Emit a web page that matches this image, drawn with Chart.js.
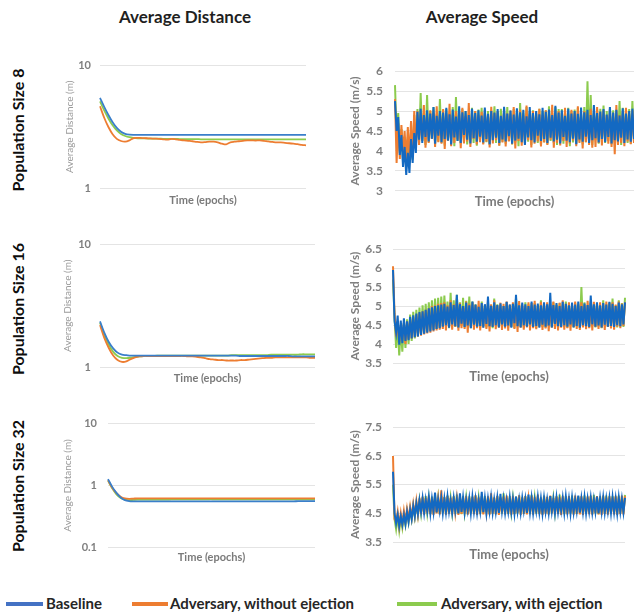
<!DOCTYPE html>
<html>
<head>
<meta charset="utf-8">
<script src="https://cdn.jsdelivr.net/npm/chart.js@4.4.1/dist/chart.umd.min.js"></script>
<style>
  body { margin: 0; width: 634px; height: 612px; background: #fff; position: relative; overflow: hidden;
         font-family: Lato, "Open Sans", sans-serif; }
  canvas { position: absolute; }
  .col-title { position: absolute; top: 6px; font-weight: 700; font-size: 17px; color: #1f1f1f;
               transform: translateX(-50%); white-space: nowrap; }
  .row-title { position: absolute; font-weight: 700; font-size: 16px; color: #0d0d0d; white-space: nowrap;
               transform: translate(-50%, -50%) rotate(-90deg); }
  .lg-line { position: absolute; height: 4px; top: 602px; }
  .lg-text { position: absolute; top: 594px; font-size: 15px; font-weight: 700; color: #262626; white-space: nowrap; }
</style>
</head>
<body>

<div class="col-title" style="left:185px">Average Distance</div>
<div class="col-title" style="left:482px">Average Speed</div>

<div class="row-title" style="left:17px;top:130px">Population Size 8</div>
<div class="row-title" style="left:17px;top:309px">Population Size 16</div>
<div class="row-title" style="left:17px;top:486px">Population Size 32</div>

<canvas id="dist8"></canvas>
<canvas id="speed8"></canvas>
<canvas id="dist16"></canvas>
<canvas id="speed16"></canvas>
<canvas id="dist32"></canvas>
<canvas id="speed32"></canvas>

<div class="lg-line" style="left:6px;width:37px;background:#4472C4"></div>
<div class="lg-text" style="left:46px">Baseline</div>
<div class="lg-line" style="left:132px;width:36px;background:#ED7D31"></div>
<div class="lg-text" style="left:170px">Adversary, without ejection</div>
<div class="lg-line" style="left:397px;width:40px;background:#8CCB4E"></div>
<div class="lg-text" style="left:441px">Adversary, with ejection</div>

<script>
// ---- series names / colours ----
const SERIES = ['Baseline', 'Adversary, without ejection', 'Adversary, with ejection'];
const DIST_COLORS = ['#3A7FCA', '#ED7D31', '#8CCB4E'];
const SPEED_COLORS = ['#1369C2', '#ED7D31', '#8CCB4E'];

// ---- tick labels ----
const TICKS_DIST8 = [1, 10];
const TICKS_DIST16 = [1, 10];
const TICKS_DIST32 = [0.1, 1, 10];
const TICKS_SPEED8 = [3, 3.5, 4, 4.5, 5, 5.5, 6];
const TICKS_SPEED16 = [3.5, 4, 4.5, 5, 5.5, 6, 6.5];
const TICKS_SPEED32 = [3.5, 4.5, 5.5, 6.5, 7.5];

// ---- average distance, population 8 ----
const DIST8_BASE = [5.45,4.6,3.95,3.45,3.1,2.88,2.77,2.73,2.72,2.72,
  2.72,2.72,2.72,2.72,2.72,2.72,2.72,2.72,2.72,2.72,
  2.72,2.72,2.72,2.72,2.72,2.72,2.72,2.72,2.72,2.72,
  2.72,2.72,2.72,2.72,2.72,2.72,2.72,2.72,2.72,2.72,
  2.72,2.72,2.72,2.72,2.72,2.72,2.72,2.72,2.72,2.72];
const DIST8_NOEJ = [4.65,3.75,3.15,2.75,2.52,2.42,2.39,2.45,2.56,2.57,
  2.56,2.55,2.54,2.53,2.52,2.5,2.48,2.52,2.5,2.47,
  2.45,2.43,2.41,2.38,2.36,2.37,2.39,2.39,2.36,2.3,
  2.27,2.36,2.39,2.41,2.43,2.45,2.45,2.44,2.45,2.43,
  2.4,2.38,2.36,2.36,2.34,2.32,2.3,2.28,2.25,2.23];
const DIST8_EJ = [5.1,4.3,3.7,3.25,2.95,2.76,2.66,2.6,2.57,2.55,
  2.54,2.54,2.53,2.53,2.53,2.52,2.52,2.52,2.52,2.51,
  2.51,2.51,2.51,2.51,2.5,2.5,2.5,2.5,2.5,2.5,
  2.5,2.5,2.5,2.5,2.5,2.5,2.5,2.5,2.5,2.5,
  2.5,2.5,2.5,2.5,2.5,2.5,2.5,2.5,2.5,2.5];

// ---- average distance, population 16 ----
const DIST16_BASE = [2.36,1.9,1.6,1.42,1.31,1.26,1.25,1.24,1.24,1.24,
  1.24,1.24,1.24,1.24,1.24,1.24,1.24,1.24,1.24,1.24,
  1.24,1.24,1.24,1.24,1.24,1.24,1.24,1.24,1.24,1.24,
  1.24,1.24,1.23,1.23,1.23,1.23,1.23,1.23,1.23,1.23,
  1.23,1.23,1.23,1.23,1.22,1.22,1.22,1.22,1.22,1.22];
const DIST16_NOEJ = [2.2,1.72,1.43,1.24,1.14,1.1,1.11,1.16,1.2,1.22,
  1.23,1.23,1.23,1.23,1.23,1.23,1.23,1.23,1.23,1.23,
  1.22,1.22,1.21,1.2,1.18,1.16,1.15,1.14,1.14,1.13,
  1.13,1.13,1.14,1.14,1.15,1.16,1.17,1.18,1.19,1.19,
  1.2,1.2,1.2,1.2,1.2,1.2,1.2,1.2,1.19,1.19];
const DIST16_EJ = [2.3,1.82,1.52,1.33,1.23,1.19,1.18,1.19,1.21,1.22,
  1.23,1.23,1.23,1.24,1.24,1.24,1.24,1.24,1.24,1.24,
  1.24,1.24,1.24,1.24,1.24,1.24,1.24,1.24,1.24,1.24,
  1.25,1.25,1.25,1.25,1.25,1.25,1.25,1.25,1.25,1.26,
  1.26,1.26,1.26,1.26,1.26,1.26,1.27,1.27,1.27,1.27];

// ---- average distance, population 32 ----
const DIST32_BASE = [1.27,0.95,0.76,0.64,0.58,0.56,0.555,0.555,0.555,0.555,
  0.555,0.555,0.555,0.555,0.555,0.555,0.555,0.555,0.555,0.555,
  0.555,0.555,0.555,0.555,0.555,0.555,0.555,0.555,0.555,0.555,
  0.555,0.555,0.555,0.555,0.555,0.555,0.555,0.555,0.555,0.555,
  0.555,0.555,0.555,0.555,0.555,0.558,0.558,0.56,0.56,0.56];
const DIST32_NOEJ = [1.22,0.92,0.75,0.66,0.62,0.61,0.615,0.62,0.62,0.62,
  0.62,0.62,0.62,0.62,0.62,0.62,0.62,0.62,0.62,0.62,
  0.62,0.62,0.62,0.62,0.62,0.62,0.62,0.62,0.62,0.62,
  0.62,0.62,0.62,0.62,0.62,0.62,0.62,0.62,0.62,0.62,
  0.62,0.62,0.62,0.62,0.62,0.62,0.62,0.62,0.62,0.62];
const DIST32_EJ = [1.2,0.9,0.72,0.63,0.59,0.58,0.585,0.59,0.59,0.59,
  0.59,0.59,0.59,0.59,0.59,0.595,0.595,0.595,0.595,0.595,
  0.595,0.595,0.595,0.595,0.6,0.6,0.6,0.6,0.6,0.6,
  0.6,0.6,0.6,0.6,0.6,0.6,0.6,0.6,0.6,0.6,
  0.6,0.6,0.6,0.6,0.6,0.6,0.6,0.6,0.6,0.6];

// ---- average speed, population 8 ----
const SPEED8_BASE = [5.25,4.5,4.85,3.9,4.4,3.6,4.1,3.4,3.95,3.45,4.3,3.7,4.45,3.95,
  4.98,4.28,5.06,4.2,4.9,4.35,5.02,4.24,4.94,4.31,5.1,4.18,4.88,4.38,5.0,4.22,4.96,4.3,5.08,4.26,
  4.92,4.16,5.04,4.34,4.86,4.25,5.12,4.2,4.97,4.4,5.0,4.28,4.9,4.19,5.06,4.32,4.95,4.23,5.02,4.36,
  4.89,4.21,5.09,4.3,4.93,4.17,5.0,4.27,4.96,4.33,5.05,4.2,4.88,4.29,5.11,4.24,4.94,4.37,5.01,4.18,
  4.91,4.26,5.07,4.31,4.97,4.22,5.03,4.15,4.87,4.34,5.1,4.27,4.95,4.21,5.0,4.38,4.92,4.25,5.08,4.3,
  4.98,4.2,5.04,4.33,4.9,4.24,5.13,4.28,4.96,4.19,5.02,4.35,4.88,4.26,5.06,4.22,4.94,4.31,5.0,4.17,
  4.93,4.29,5.09,4.23,4.97,4.36,5.03,4.2,4.9,4.27,5.15,4.32,4.95,4.21,
  4.99,4.3,5.05,4.22,4.91,4.35,5.1,4.19,4.96,4.27,5.03,4.24,4.89,4.33,5.07,4.2,4.94,4.29,5.0,4.23,5.06,4.3];
const SPEED8_NOEJ = [5.3,3.7,4.7,3.8,4.65,3.95,4.5,3.75,4.6,3.8,4.75,3.85,5.0,4.1,
  5.0,4.15,4.92,4.25,5.15,4.08,4.88,4.2,5.02,4.3,4.95,4.1,5.12,4.22,4.9,4.18,5.05,4.05,4.94,4.26,
  5.18,4.12,4.9,4.2,5.0,4.28,4.93,4.07,5.08,4.19,4.87,4.24,5.2,4.1,4.96,4.3,5.0,4.16,4.9,4.22,
  4.98,4.16,5.04,4.23,4.91,4.09,5.11,4.19,4.95,4.27,5.0,4.13,4.88,4.21,5.07,4.11,4.94,4.24,5.01,4.17,
  5.1,4.06,4.95,4.25,5.04,4.13,4.88,4.2,5.14,4.27,4.92,4.09,5.0,4.18,4.97,4.24,5.06,4.11,4.9,4.21,
  5.02,4.15,4.94,4.28,5.16,4.08,4.89,4.2,5.0,4.14,4.95,4.25,5.08,4.1,4.91,4.19,5.03,4.26,4.96,4.12,
  5.12,4.2,4.9,4.06,5.0,4.22,4.94,4.15,5.06,4.08,4.92,4.1,5.1,4.2,4.97,4.14,5.02,4.25,4.9,4.18,
  5.05,4.1,4.95,3.92,5.15,4.15,4.9,4.2,5.0,4.12,5.08,4.24,4.93,4.17,5.02,4.2];
const SPEED8_EJ = [5.65,4.4,4.95,3.95,4.55,3.75,4.25,3.72,4.35,3.7,4.5,3.78,4.9,4.15,
  5.05,4.2,5.45,4.25,4.95,4.15,5.4,4.22,5.0,4.3,5.1,4.18,4.92,4.24,5.3,4.2,5.02,4.14,5.05,4.26,
  4.96,4.2,5.1,4.12,5.35,4.25,4.98,4.19,5.05,4.22,5.0,4.16,4.93,4.28,5.08,4.2,5.0,4.13,5.04,4.24,
  5.08,4.18,4.95,4.22,5.0,4.15,5.02,4.27,5.12,4.2,4.97,4.14,5.06,4.23,5.0,4.18,5.1,4.25,4.94,4.16,
  5.05,4.21,5.03,4.12,5.2,4.26,4.96,4.19,5.1,4.23,5.0,4.15,5.02,4.28,4.93,4.2,5.06,4.14,5.0,4.22,
  5.02,4.17,5.12,4.25,4.95,4.2,5.1,4.15,5.05,4.23,5.05,4.18,4.98,4.26,5.08,4.12,5.0,4.21,5.04,4.19,
  5.08,4.24,4.94,4.16,5.1,4.22,5.75,4.2,5.4,4.15,4.97,4.27,5.05,4.18,5.06,4.22,5.14,4.2,5.0,4.25,
  5.1,4.17,5.02,4.22,5.02,4.2,5.25,4.15,5.08,4.26,5.05,4.2,5.05,4.18,5.25,4.23];

// ---- average speed, population 16 ----
const SPEED16_BASE = [5.95,4.6,4.3,4.75,3.98,4.62,4.02,4.68,4.08,4.6,4.1,4.72,4.15,4.76,4.18,4.8,
  4.2,4.84,4.24,4.86,4.27,4.9,4.3,4.94,4.33,4.97,4.36,5.0,4.4,5.02,4.42,5.04,
  4.46,5.06,4.5,4.99,4.43,5.1,4.52,5.03,4.47,5.3,4.44,5.05,4.54,5.0,4.45,5.09,4.49,5.02,4.42,5.12,
  4.51,5.04,4.46,4.98,4.48,5.08,4.43,5.05,4.53,5.25,4.47,5.01,4.45,5.1,4.5,5.03,4.44,5.07,4.52,5.0,
  4.46,5.11,4.49,5.04,4.43,5.06,4.55,5.3,4.47,5.02,4.44,5.09,4.5,5.05,4.46,5.0,4.52,5.12,4.45,5.04,
  4.48,5.07,4.43,5.02,4.51,5.1,4.46,5.05,4.49,5.35,4.44,5.03,4.53,5.08,4.47,5.0,4.45,5.11,4.5,5.06,
  4.46,5.02,4.52,5.09,4.44,5.04,4.48,5.12,4.43,5.0,4.5,5.07,4.47,5.03,4.45,5.28,4.52,5.05,4.46,5.1,
  4.49,5.02,4.44,5.08,4.51,5.04,4.46,5.11,4.48,5.06,4.45,5.0,4.5,5.09,4.47,5.05,4.52,5.1];
const SPEED16_NOEJ = [6.05,4.8,4.2,4.6,4.05,4.5,4.1,4.55,4.0,4.6,4.12,4.68,4.15,4.72,4.18,4.78,
  4.2,4.82,4.22,4.86,4.25,4.9,4.28,4.95,4.3,5.0,4.33,5.02,4.36,5.06,4.38,5.08,
  4.4,5.1,4.36,5.02,4.44,5.15,4.38,5.05,4.46,5.2,4.35,5.08,4.42,5.0,4.4,5.12,4.3,5.06,4.45,5.1,
  4.38,5.03,4.42,5.14,4.36,5.07,4.44,5.0,4.4,5.11,4.33,5.05,4.46,5.15,4.39,5.02,4.43,5.09,4.37,5.06,
  4.41,5.12,4.35,5.04,4.45,5.1,4.4,5.07,4.32,5.13,4.43,5.05,4.38,5.0,4.44,5.1,4.36,5.08,4.42,5.14,
  4.39,5.03,4.45,5.11,4.37,5.06,4.41,5.1,4.34,5.05,4.44,5.12,4.4,5.02,4.36,5.09,4.43,5.15,4.38,5.06,
  4.42,5.1,4.35,5.04,4.45,5.12,4.4,5.07,4.37,5.1,4.44,5.03,4.39,5.14,4.42,5.08,4.36,5.11,4.45,5.05,
  4.4,5.1,4.43,5.06,4.37,5.12,4.45,5.08,4.41,5.1,4.38,5.04,4.46,5.12,4.42,5.07,4.48,5.1];
const SPEED16_EJ = [5.7,4.7,3.9,4.5,3.7,4.4,3.8,4.55,3.9,4.65,4.0,4.78,4.08,4.85,4.15,4.9,
  4.2,4.96,4.24,5.02,4.28,5.06,4.32,5.1,4.35,5.15,4.38,5.2,4.4,5.22,4.42,5.25,
  4.44,5.28,4.47,5.12,4.42,5.35,4.48,5.15,4.45,5.3,4.43,5.1,4.49,5.22,4.44,5.14,4.46,5.25,4.42,5.12,
  4.47,5.05,4.45,5.0,4.43,5.12,4.48,5.03,4.44,5.08,4.46,5.0,4.42,5.2,4.49,5.05,4.45,5.02,4.43,5.0,
  4.47,5.1,4.44,5.02,4.46,5.06,4.42,5.22,4.48,5.04,4.45,5.0,4.43,5.1,4.47,5.05,4.44,5.02,4.46,5.08,
  4.42,5.0,4.48,5.15,4.45,5.03,4.43,5.06,4.47,5.0,4.44,5.1,4.46,5.04,4.42,5.08,4.49,5.02,4.45,5.12,
  4.43,5.05,4.47,5.0,4.44,5.08,4.46,5.02,4.42,5.5,4.48,5.1,4.45,5.02,4.43,5.12,4.47,5.04,4.44,5.08,
  4.46,5.02,4.42,5.15,4.48,5.05,4.45,5.1,4.43,5.2,4.47,5.02,4.44,5.15,4.46,5.08,4.45,5.22];

// ---- average speed, population 32 ----
const SPEED32_BASE = [5.95,4.5,4.15,4.45,4.05,4.4,4.1,4.45,4.12,4.55,4.2,4.62,4.3,4.75,4.4,4.85,4.48,4.95,
  4.55,5.02,4.52,4.97,4.58,5.06,4.5,5.0,4.56,5.22,4.53,4.98,4.59,5.04,4.51,5.01,4.55,5.08,4.57,4.96,
  4.52,5.03,4.58,5.0,4.5,5.2,4.55,5.05,4.53,4.98,4.6,5.02,4.51,5.07,4.56,5.0,4.52,4.97,4.58,5.25,
  4.54,5.03,4.5,5.0,4.57,5.06,4.53,4.98,4.55,5.04,4.51,5.18,4.58,5.01,4.52,4.96,4.56,5.05,4.54,5.0,
  4.5,5.08,4.57,4.98,4.53,5.03,4.59,5.0,4.51,5.15,4.55,5.04,4.52,4.97,4.58,5.06,4.54,5.01,4.5,5.03,
  4.56,4.98,4.53,5.1,4.57,5.0,4.51,5.05,4.55,4.97,4.59,5.03,4.52,5.08,4.56,5.0,4.5,5.04,4.54,4.98,
  4.58,5.12,4.52,5.02,4.55,5.06,4.51,5.0,4.57,5.04,4.53,4.98,4.56,5.08,4.5,5.02,4.55,5.05,4.53,5.0,
  4.57,5.03,4.52,5.06,4.55,5.01,4.5,5.05,4.56,5.0,4.54,5.04];
const SPEED32_NOEJ = [6.5,4.3,4.2,4.55,4.05,4.5,4.12,4.58,4.2,4.65,4.28,4.72,4.35,4.82,4.42,4.92,4.46,5.02,
  4.48,5.08,4.45,5.03,4.52,5.12,4.47,5.05,4.44,5.1,4.5,5.02,4.46,5.3,4.53,5.06,4.45,5.11,4.49,5.04,
  4.46,5.09,4.52,5.02,4.44,5.12,4.48,5.06,4.5,5.1,4.45,5.03,4.51,5.08,4.47,5.13,4.44,5.05,4.5,5.1,
  4.46,5.04,4.53,5.09,4.45,5.2,4.49,5.05,4.47,5.11,4.44,5.03,4.51,5.08,4.46,5.12,4.5,5.04,4.45,5.1,
  4.48,5.06,4.52,5.13,4.44,5.05,4.49,5.09,4.46,5.02,4.5,5.11,4.45,5.06,4.53,5.15,4.47,5.04,4.44,5.1,
  4.49,5.07,4.46,5.12,4.51,5.03,4.45,5.09,4.48,5.06,4.44,5.11,4.5,5.05,4.46,5.1,4.52,5.03,4.45,5.12,
  4.49,5.06,4.46,5.1,4.44,5.04,4.5,5.09,4.47,5.12,4.45,5.05,4.51,5.1,4.46,5.07,4.44,5.12,4.48,5.05,
  4.45,5.1,4.5,5.06,4.46,5.11,4.44,5.08,4.48,5.12,4.46,5.1];
const SPEED32_EJ = [5.5,4.3,3.95,4.4,3.9,4.35,4.0,4.45,4.1,4.55,4.2,4.65,4.3,4.75,4.38,4.85,4.45,4.95,
  4.5,5.05,4.48,5.1,4.52,5.02,4.47,5.08,4.5,5.14,4.53,5.04,4.48,5.1,4.51,5.06,4.47,5.12,4.5,5.03,
  4.52,5.08,4.48,5.15,4.5,5.05,4.47,5.1,4.53,5.04,4.49,5.09,4.5,5.06,4.48,5.12,4.52,5.03,4.47,5.08,
  4.5,5.1,4.53,5.05,4.48,5.12,4.5,5.04,4.47,5.09,4.52,5.06,4.49,5.2,4.5,5.05,4.48,5.1,4.53,5.03,
  4.47,5.08,4.5,5.12,4.52,5.05,4.48,5.1,4.5,5.06,4.47,5.14,4.53,5.04,4.49,5.09,4.5,5.05,4.48,5.12,
  4.52,5.06,4.47,5.1,4.5,5.03,4.53,5.08,4.48,5.15,4.5,5.05,4.47,5.1,4.52,5.06,4.49,5.12,4.5,5.04,
  4.48,5.09,4.53,5.06,4.47,5.12,4.5,5.05,4.52,5.1,4.48,5.14,4.5,5.06,4.47,5.1,4.53,5.08,4.5,5.12,
  4.48,5.05,4.52,5.1,4.5,5.07,4.47,5.12,4.5,5.08,4.52,5.14];

const FONT = 'Lato, "Open Sans", sans-serif';

// build one small panel so that its plot area lands on the given box
function panel(id, box, yAxis, series, colors, lineWidth, tension) {
  const PAD_TOP = 9;
  const canvas = document.getElementById(id);
  const left = box.left - box.yw;
  const top = box.top - PAD_TOP;
  const width = box.right + 1 - left;
  const height = box.bottom + box.xh - top;
  canvas.width = width;
  canvas.height = height;
  canvas.style.left = left + 'px';
  canvas.style.top = top + 'px';

  const n = Math.max(...series.map(s => s.length));
  const labels = Array.from({ length: n }, (_, i) => i);

  return new Chart(canvas, {
    type: 'line',
    data: {
      labels: labels,
      datasets: series.map((s, i) => ({
        label: SERIES[i],
        data: s,
        borderColor: colors[i],
        borderWidth: lineWidth,
        pointRadius: 0,
        tension: tension,
        fill: false
      }))
    },
    options: {
      responsive: false,
      animation: false,
      layout: { padding: { top: PAD_TOP, right: 1, left: 0, bottom: 0 } },
      plugins: { legend: { display: false }, tooltip: { enabled: false } },
      scales: {
        x: {
          grid: { display: false },
          border: { display: false },
          ticks: { display: false },
          title: {
            display: true,
            text: 'Time (epochs)',
            color: '#7a7a7a',
            font: { family: FONT, size: box.xFont, weight: 'bold' },
            padding: 0
          },
          afterFit(s) { s.height = box.xh; }
        },
        y: {
          type: yAxis.type,
          min: yAxis.ticks[0],
          max: yAxis.ticks[yAxis.ticks.length - 1],
          grid: { color: '#e4e4e4', drawTicks: false, lineWidth: 1 },
          border: { display: false },
          afterBuildTicks(s) { s.ticks = yAxis.ticks.map(v => ({ value: v })); },
          ticks: {
            padding: box.tickPad,
            color: '#7f7f7f',
            font: { family: FONT, size: box.tickFont, weight: 'bold' },
            callback: v => String(+Number(v).toFixed(2))
          },
          title: {
            display: true,
            text: yAxis.title,
            color: yAxis.titleColor,
            font: { family: FONT, size: box.yFont, weight: yAxis.titleWeight },
            padding: { top: box.yPad, bottom: 0 }
          },
          afterFit(s) { s.width = box.yw; }
        }
      }
    }
  });
}

const DIST_Y = t => ({ type: 'logarithmic', ticks: t, title: 'Average Distance (m)', titleColor: '#9a9a9a', titleWeight: 'normal' });
const SPEED_Y = t => ({ type: 'linear', ticks: t, title: 'Average Speed (m/s)', titleColor: '#7f7f7f', titleWeight: 'bold' });

panel('dist8',
  { left: 100, right: 306, top: 59, bottom: 188, yw: 40, yPad: 4, xh: 19, tickPad: 9, tickFont: 11, xFont: 11, yFont: 10 },
  DIST_Y(TICKS_DIST8), [DIST8_BASE, DIST8_NOEJ, DIST8_EJ], DIST_COLORS, 1.8, 0.3);
panel('dist16',
  { left: 100, right: 315, top: 238, bottom: 367, yw: 40, yPad: 2, xh: 18, tickPad: 9, tickFont: 11, xFont: 11, yFont: 10 },
  DIST_Y(TICKS_DIST16), [DIST16_BASE, DIST16_NOEJ, DIST16_EJ], DIST_COLORS, 1.8, 0.3);
panel('dist32',
  { left: 108, right: 315, top: 415, bottom: 548, yw: 48, yPad: 2, xh: 17, tickPad: 11, tickFont: 11, xFont: 11, yFont: 10 },
  DIST_Y(TICKS_DIST32), [DIST32_BASE, DIST32_NOEJ, DIST32_EJ], DIST_COLORS, 1.8, 0.3);

panel('speed8',
  { left: 395, right: 634, top: 61, bottom: 191, yw: 50, yPad: 3, xh: 19, tickPad: 12, tickFont: 12, xFont: 13, yFont: 12 },
  SPEED_Y(TICKS_SPEED8), [SPEED8_BASE, SPEED8_NOEJ, SPEED8_EJ], SPEED_COLORS, 2, 0);
panel('speed16',
  { left: 393, right: 625, top: 240, bottom: 363, yw: 48, yPad: 3, xh: 22, tickPad: 11, tickFont: 12, xFont: 13, yFont: 12 },
  SPEED_Y(TICKS_SPEED16), [SPEED16_BASE, SPEED16_NOEJ, SPEED16_EJ], SPEED_COLORS, 2, 0);
panel('speed32',
  { left: 393, right: 625, top: 418, bottom: 542, yw: 48, yPad: 3, xh: 21, tickPad: 11, tickFont: 12, xFont: 13, yFont: 12 },
  SPEED_Y(TICKS_SPEED32), [SPEED32_BASE, SPEED32_NOEJ, SPEED32_EJ], SPEED_COLORS, 2, 0);
</script>
</body>
</html>
